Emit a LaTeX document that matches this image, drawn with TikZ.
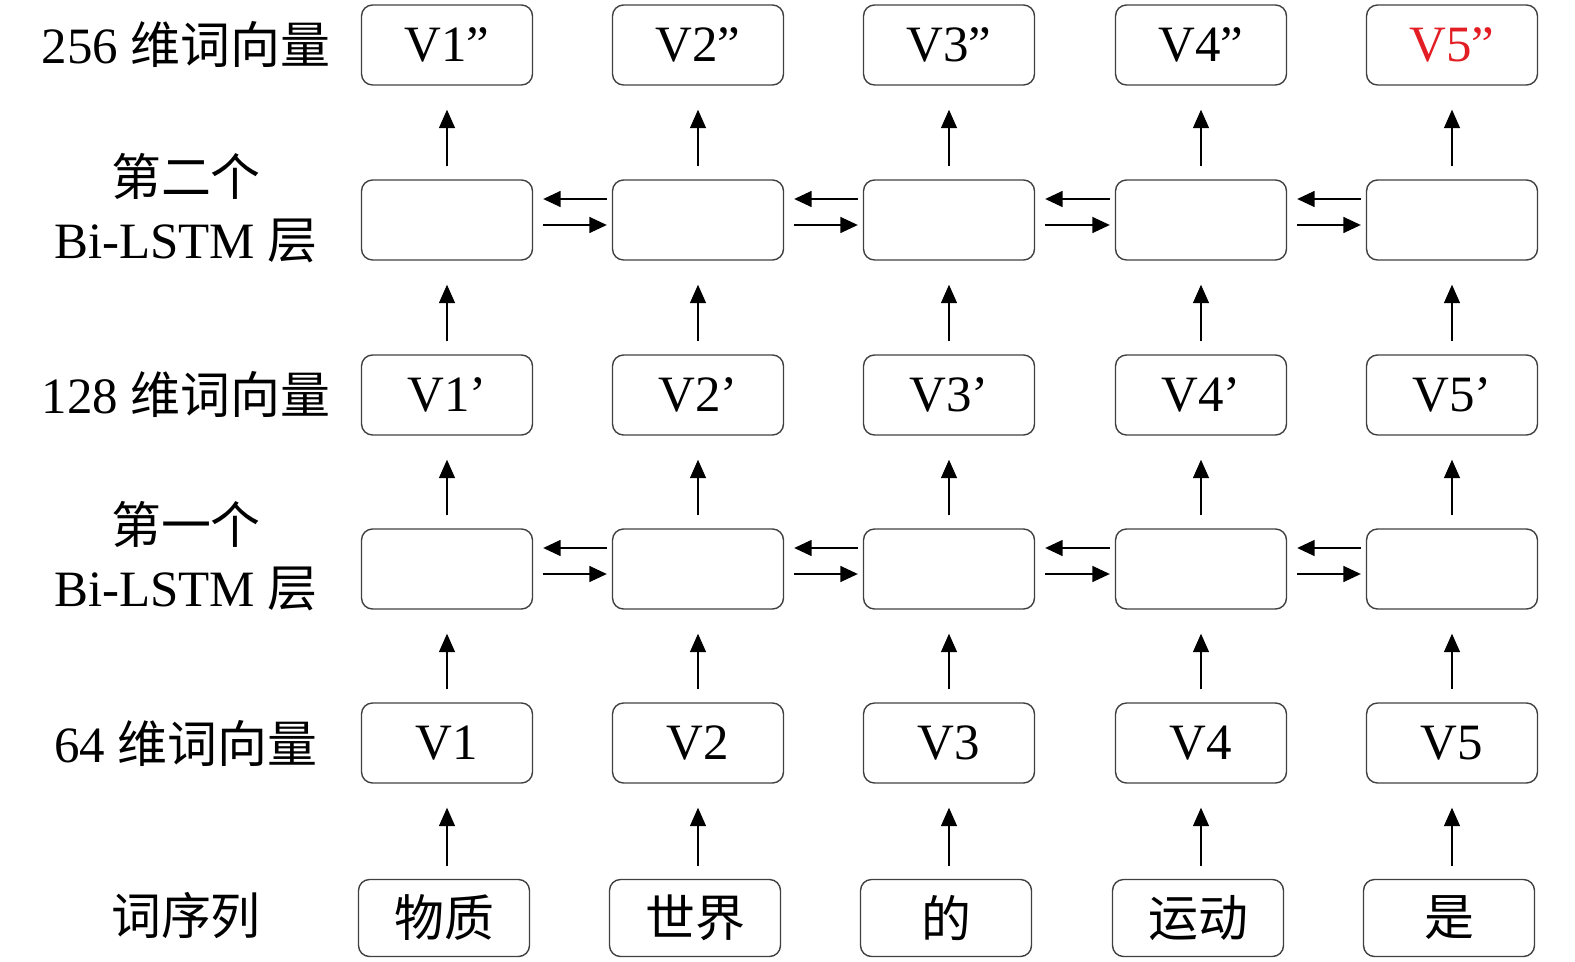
\documentclass[tikz,border=0pt]{standalone}
\usepackage{fontspec}
\setmainfont{Liberation Serif}
\newfontfamily\cjk[Scale=0.98]{Noto Sans CJK SC}
\usetikzlibrary{arrows.meta}
\definecolor{vred}{RGB}{226,30,36}

\begin{document}
\begin{tikzpicture}[x=0.02cm,y=-0.02cm,
    cell/.style={draw=black!75,line width=0.8pt,rounded corners=0.22cm,
      minimum width=3.42cm,minimum height=1.6cm,inner sep=0pt,
      font=\fontsize{29}{32}\selectfont},
    lbl/.style={align=center,font=\fontsize{29}{36}\selectfont},
    up/.style={-{Triangle[length=0.37cm,width=0.32cm]},line width=0.85pt,
      shorten <=0.26cm,shorten >=0.48cm},
    side/.style={-{Triangle[length=0.35cm,width=0.32cm]},line width=0.85pt}]
    \useasboundingbox (0,0) rectangle (1575,962);
    % left labels
    \node[lbl] (l1) at (186,45) {256 {\cjk 维词向量}};
    \node[lbl] (l2) at (186,208) {{\cjk 第二个}\\Bi-LSTM {\cjk 层}};
    \node[lbl] (l3) at (186,395) {128 {\cjk 维词向量}};
    \node[lbl] (l4) at (186,556) {{\cjk 第一个}\\Bi-LSTM {\cjk 层}};
    \node[lbl] (l5) at (186,743) {64 {\cjk 维词向量}};
    \node[lbl] (l6) at (186,916) {\cjk 词序列};
    % columns
    \foreach \i/\x/\c/\w in {1/447/black/物质,2/698/black/世界,3/949/black/的,4/1201/black/运动,5/1452/vred/是}
    {
      \node[cell,text=\c] (t\i) at (\x,45) {V\i”};
      \node[cell] (b\i) at (\x,220) {};
      \node[cell] (m\i) at (\x,395) {V\i’};
      \node[cell] (a\i) at (\x,569) {};
      \node[cell] (v\i) at (\x,743) {V\i};
      \node[cell,minimum height=1.54cm,font=\fontsize{29}{32}\selectfont\cjk] (w\i) at ([xshift=-0.06cm]\x,918) {\w};
      \draw[up] (w\i.north -| v\i) -- (v\i);
      \draw[up] (v\i) -- (a\i);
      \draw[up] (a\i) -- (m\i);
      \draw[up] (m\i) -- (b\i);
      \draw[up] (b\i) -- (t\i);
    }
    % links between Bi-LSTM cells
    \foreach \i [count=\j from 2] in {1,...,4}
    {
      \foreach \r in {a,b}
      {
        \draw[side,shorten <=0.2cm,shorten >=0.1cm] ([yshift=-0.1cm]\r\i.east) -- ([yshift=-0.1cm]\r\j.west);
        \draw[side,shorten <=0.1cm,shorten >=0.2cm] ([yshift=0.42cm]\r\j.west) -- ([yshift=0.42cm]\r\i.east);
      }
    }
\end{tikzpicture}
\end{document}
